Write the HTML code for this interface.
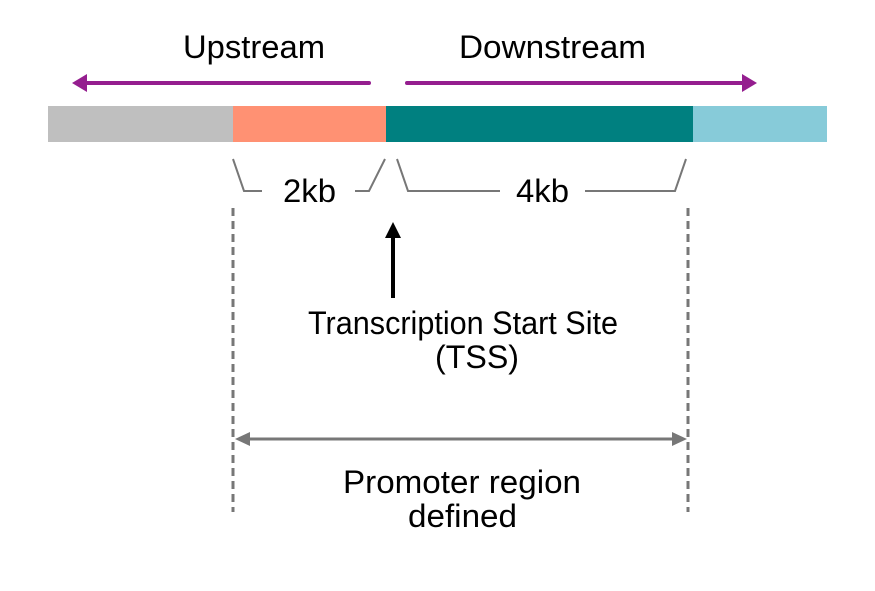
<!DOCTYPE html>
<html><head><style>html,body{margin:0;padding:0;background:#fff;}svg{display:block}</style></head>
<body>
<svg width="875" height="591" viewBox="0 0 875 591" xmlns="http://www.w3.org/2000/svg" font-family="Liberation Sans, Arial, sans-serif">
<rect width="875" height="591" fill="#fff"/>
<g font-size="32" fill="#000">
<text x="183" y="58" textLength="142" lengthAdjust="spacingAndGlyphs">Upstream</text>
<text x="459" y="58" textLength="187" lengthAdjust="spacingAndGlyphs">Downstream</text>
<text x="283" y="202" textLength="53" lengthAdjust="spacingAndGlyphs">2kb</text>
<text x="516" y="202" textLength="53" lengthAdjust="spacingAndGlyphs">4kb</text>
<text x="308" y="334" textLength="310" lengthAdjust="spacingAndGlyphs">Transcription Start Site</text>
<text x="435" y="368" textLength="84" lengthAdjust="spacingAndGlyphs">(TSS)</text>
<text x="343" y="493" textLength="238" lengthAdjust="spacingAndGlyphs">Promoter region</text>
<text x="408" y="527" textLength="109" lengthAdjust="spacingAndGlyphs">defined</text>
</g>
<line x1="369" y1="83" x2="84" y2="83" stroke="#951e8f" stroke-width="4" stroke-linecap="round"/>
<polygon points="72,83 87,74 87,92" fill="#951e8f"/>
<line x1="407" y1="83" x2="745" y2="83" stroke="#951e8f" stroke-width="4" stroke-linecap="round"/>
<polygon points="757,83 742,74 742,92" fill="#951e8f"/>
<rect x="48" y="106" width="185" height="36" fill="#bfbfbf"/>
<rect x="233" y="106" width="153" height="36" fill="#ff9173"/>
<rect x="386" y="106" width="307" height="36" fill="#008080"/>
<rect x="693" y="106" width="134" height="36" fill="#87cbd9"/>
<g stroke="#777" stroke-width="2" fill="none">
<polyline points="233,159 244,191 262,191"/>
<polyline points="355,191 369,191 385,159"/>
<polyline points="397,159 408,191 500,191"/>
<polyline points="585,191 675,191 686,159"/>
</g>
<g stroke="#777" stroke-width="3" stroke-dasharray="8,5">
<line x1="233" y1="208" x2="233" y2="512"/>
<line x1="688" y1="208" x2="688" y2="512"/>
</g>
<line x1="393" y1="298" x2="393" y2="236" stroke="#000" stroke-width="4"/>
<polygon points="393,222 385,238 401,238" fill="#000"/>
<line x1="246" y1="439" x2="676" y2="439" stroke="#777" stroke-width="3"/>
<polygon points="235,439 250,432 250,446" fill="#777"/>
<polygon points="687,439 672,432 672,446" fill="#777"/>
</svg>
</body></html>
